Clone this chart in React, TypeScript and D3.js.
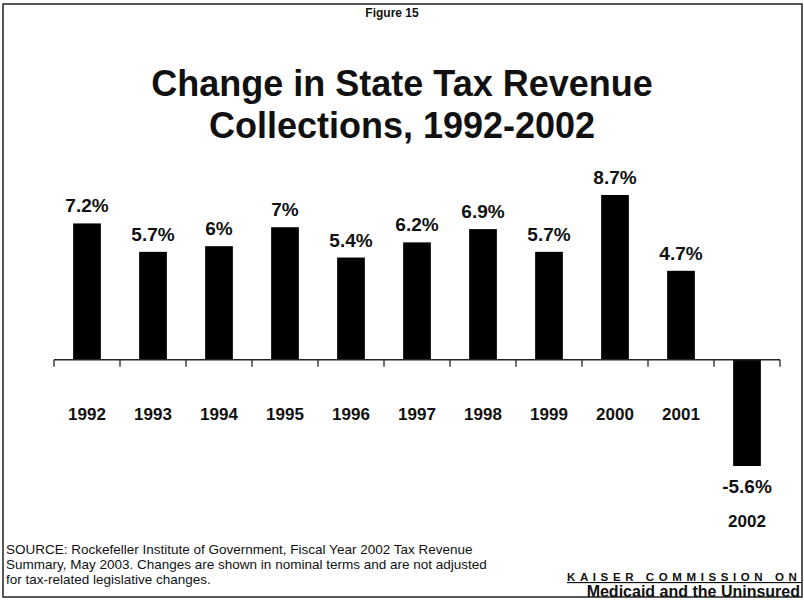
import React, { useRef, useEffect } from "react";
import * as d3 from "d3";

const years = ["1992", "1993", "1994", "1995", "1996", "1997", "1998", "1999", "2000", "2001", "2002"];
const changes = [7.2, 5.7, 6, 7, 5.4, 6.2, 6.9, 5.7, 8.7, 4.7, -5.6];
const valueLabels = ["7.2%", "5.7%", "6%", "7%", "5.4%", "6.2%", "6.9%", "5.7%", "8.7%", "4.7%", "-5.6%"];
const titleLines = ["Change in State Tax Revenue", "Collections, 1992-2002"];
const sourceLines = [
  "SOURCE: Rockefeller Institute of Government, Fiscal Year 2002 Tax Revenue",
  "Summary, May 2003.  Changes are shown in nominal terms and are not adjusted",
  "for tax-related legislative changes.",
];

const W = 804;
const H = 603;
const FONT = "'Liberation Sans', Arial, sans-serif";

const RevenueChart: React.FC = () => {
  const svgRef = useRef<SVGSVGElement>(null);

  useEffect(() => {
    if (!svgRef.current) return;
    const svg = d3.select(svgRef.current);
    svg.selectAll("*").remove();

    svg.append("rect").attr("width", W).attr("height", H).attr("fill", "#fff");

    // frame
    svg
      .append("rect")
      .attr("x", 3)
      .attr("y", 4)
      .attr("width", 799)
      .attr("height", 593)
      .attr("fill", "none")
      .attr("stroke", "#222")
      .attr("stroke-width", 1.5);

    svg
      .append("text")
      .attr("x", 392)
      .attr("y", 17)
      .attr("text-anchor", "middle")
      .attr("font-family", FONT)
      .attr("font-weight", "bold")
      .attr("font-size", 12)
      .attr("fill", "#111")
      .text("Figure 15");

    svg
      .selectAll("text.title")
      .data(titleLines)
      .enter()
      .append("text")
      .attr("class", "title")
      .attr("x", 402)
      .attr("y", (d, i) => 96 + i * 42)
      .attr("text-anchor", "middle")
      .attr("font-family", FONT)
      .attr("font-weight", "bold")
      .attr("font-size", 36)
      .attr("fill", "#111")
      .text((d) => d);

    const x = d3.scaleBand().domain(years).range([54, 780]).paddingInner(0.58).paddingOuter(0.29);
    const y = d3.scaleLinear().domain([-5.6, 8.7]).range([466, 195]);
    const step = x.step();
    const x0 = 54;

    // bars
    svg
      .selectAll("rect.bar")
      .data(changes)
      .enter()
      .append("rect")
      .attr("class", "bar")
      .attr("x", (d, i) => x(years[i]) as number)
      .attr("width", x.bandwidth())
      .attr("y", (d) => y(Math.max(0, d)))
      .attr("height", (d) => Math.abs(y(d) - y(0)))
      .attr("fill", "#000");

    // axis line and ticks
    svg
      .append("line")
      .attr("x1", x0)
      .attr("x2", 780)
      .attr("y1", y(0))
      .attr("y2", y(0))
      .attr("stroke", "#222")
      .attr("stroke-width", 1.5);

    svg
      .selectAll("line.tick")
      .data(d3.range(years.length + 1))
      .enter()
      .append("line")
      .attr("class", "tick")
      .attr("x1", (d) => x0 + d * step)
      .attr("x2", (d) => x0 + d * step)
      .attr("y1", y(0))
      .attr("y2", y(0) + 7)
      .attr("stroke", "#222")
      .attr("stroke-width", 1.3);

    // value labels
    svg
      .selectAll("text.val")
      .data(changes)
      .enter()
      .append("text")
      .attr("class", "val")
      .attr("x", (d, i) => (x(years[i]) as number) + x.bandwidth() / 2)
      .attr("y", (d) => (d >= 0 ? y(d) - 11 : y(d) + 27))
      .attr("text-anchor", "middle")
      .attr("font-family", FONT)
      .attr("font-weight", "bold")
      .attr("font-size", 19)
      .attr("fill", "#111")
      .text((d, i) => valueLabels[i]);

    // year labels
    svg
      .selectAll("text.year")
      .data(changes)
      .enter()
      .append("text")
      .attr("class", "year")
      .attr("x", (d, i) => (x(years[i]) as number) + x.bandwidth() / 2)
      .attr("y", (d) => (d >= 0 ? 420 : 527))
      .attr("text-anchor", "middle")
      .attr("font-family", FONT)
      .attr("font-weight", "bold")
      .attr("font-size", 17)
      .attr("fill", "#111")
      .text((d, i) => years[i]);

    // source note
    svg
      .selectAll("text.src")
      .data(sourceLines)
      .enter()
      .append("text")
      .attr("class", "src")
      .attr("x", 6)
      .attr("y", (d, i) => 554 + i * 15)
      .attr("font-family", FONT)
      .attr("font-size", 13.5)
      .attr("fill", "#111")
      .text((d) => d);

    svg
      .append("text")
      .attr("x", 567)
      .attr("y", 581)
      .attr("font-family", FONT)
      .attr("font-weight", "bold")
      .attr("font-size", 11.5)
      .attr("letter-spacing", 4.6)
      .attr("text-decoration", "underline")
      .attr("fill", "#111")
      .text("KAISER COMMISSION ON");

    svg
      .append("text")
      .attr("x", 800)
      .attr("y", 597)
      .attr("text-anchor", "end")
      .attr("font-family", FONT)
      .attr("font-weight", "bold")
      .attr("font-size", 16)
      .attr("fill", "#111")
      .text("Medicaid and the Uninsured");
  }, []);

  return <svg ref={svgRef} width={W} height={H} style={{ display: "block" }} />;
};

export default function App() {
  return (
    <div style={{ position: "absolute", left: 0, top: 0 }}>
      <RevenueChart />
    </div>
  );
}
